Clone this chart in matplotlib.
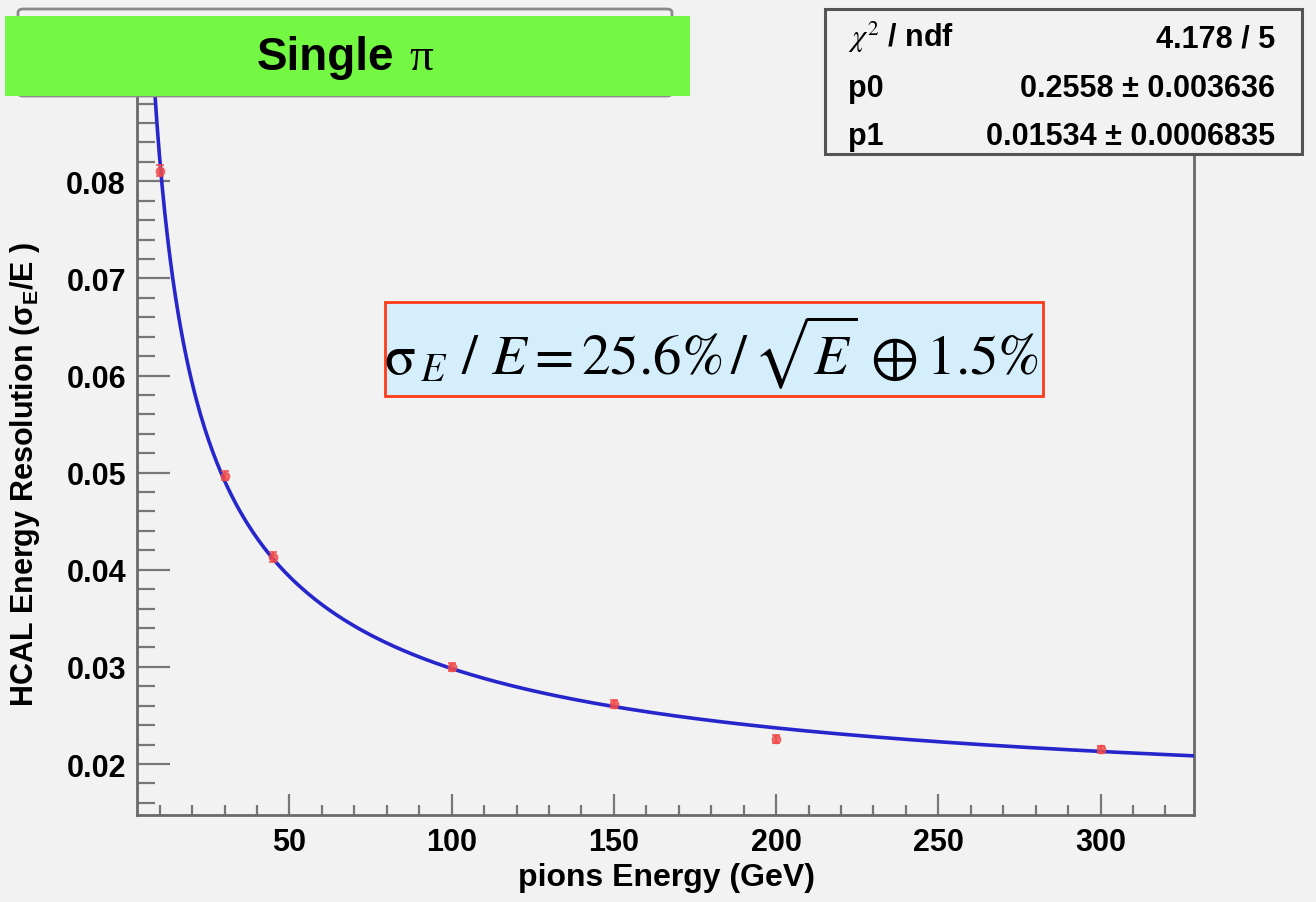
import numpy as np
import matplotlib
matplotlib.use("Agg")
import matplotlib.pyplot as plt
from matplotlib.patches import Rectangle, FancyBboxPatch

# ---- data ----
energy = [10, 30, 45, 100, 150, 200, 300]
resolution = [0.0811, 0.0497, 0.0413, 0.0300, 0.0262, 0.0226, 0.0215]
res_err = [0.0006, 0.0005, 0.0005, 0.0004, 0.0004, 0.0004, 0.0004]
p0 = 0.2558
p1 = 0.01534
fit_range = [3.0, 328.8]
x_major = [50, 100, 150, 200, 250, 300]
y_major = [0.02, 0.03, 0.04, 0.05, 0.06, 0.07, 0.08]
stat_labels = [r"$\chi^{2}$ / ndf", "p0", "p1"]
stat_values = ["4.178 / 5", "0.2558 \u00b1 0.003636", "0.01534 \u00b1 0.0006835"]

W, H = 1316, 903
BG = "#f2f2f2"
SANS = ["Liberation Sans", "DejaVu Sans"]
SERIF = ["Liberation Serif", "DejaVu Serif"]

fig = plt.figure(figsize=(W / 100, H / 100), dpi=100, facecolor=BG)

def fx(x):
    return x / W

def fy(y):
    return 1 - y / H

L, R, T, B = 137, 1194, 97, 816
ax = fig.add_axes([fx(L), fy(B), fx(R) - fx(L), fy(T) - fy(B)])
ax.set_facecolor(BG)

# fit curve
E = np.linspace(fit_range[0], fit_range[1], 800)
f = np.sqrt((p0 / np.sqrt(E)) ** 2 + p1 ** 2)
ax.plot(E, f, color="#2626cc", lw=2.6, zorder=3)

# data points
ax.errorbar(energy, resolution, yerr=res_err, fmt="o", ms=6, color="#f04a4a",
            ecolor="#f04a4a", elinewidth=1.6, capsize=3, capthick=1.4, zorder=4,
            alpha=0.8)

ax.set_xlim(3.0, 328.8)
ax.set_ylim(0.01475, 0.08878)
ax.set_xticks(x_major)
ax.set_xticks(np.arange(10, 330, 10), minor=True)
ax.set_yticks(y_major)
ax.set_yticks(np.arange(0.016, 0.0885, 0.002), minor=True)
ax.set_xticklabels([str(v) for v in x_major])
ax.set_yticklabels(["%.2f" % v for v in y_major])

for s in ["left", "bottom", "right"]:
    ax.spines[s].set_color("#6a6a6a")
    ax.spines[s].set_linewidth(2)
ax.spines["top"].set_visible(False)

ax.tick_params(axis="y", which="major", direction="in", length=24, width=1.6,
               color="#777777", pad=8, labelsize=22)
ax.tick_params(axis="y", which="minor", direction="in", length=13, width=1.6,
               color="#777777")
ax.tick_params(axis="x", which="major", direction="in", length=15, width=1.6,
               color="#777777", pad=9, labelsize=22)
ax.tick_params(axis="x", which="minor", direction="in", length=7.5, width=1.6,
               color="#777777")
for lab in ax.get_xticklabels() + ax.get_yticklabels():
    lab.set_fontfamily(SANS)
    lab.set_fontweight("bold")

# axis titles
fig.text(fx(667), fy(878), "pions Energy (GeV)", ha="center", va="center",
         fontsize=23, fontweight="bold", family=SANS)
fig.text(fx(25), fy(474), r"HCAL Energy Resolution ($\mathregular{\sigma_{E}}$/E )",
         ha="center", va="center", rotation=90, fontsize=22, fontweight="bold",
         family=SANS)

# title box (grey, behind) and green label
fig.add_artist(FancyBboxPatch((fx(18), fy(97)), fx(672) - fx(18), fy(10) - fy(97),
                              boxstyle="round,pad=0,rounding_size=0.004",
                              transform=fig.transFigure, facecolor=BG,
                              edgecolor="#8a8a8a", lw=2, zorder=5))
fig.add_artist(Rectangle((fx(5), fy(97)), fx(690) - fx(5), fy(17) - fy(97),
                         transform=fig.transFigure, facecolor="#74f843",
                         edgecolor="none", zorder=6))
fig.text(fx(257), fy(70), "Single", ha="left", va="baseline", fontsize=33,
         fontweight="bold", family=SANS, zorder=7)
fig.text(fx(409), fy(70), "\u03c0", ha="left", va="baseline", fontsize=34,
         family=SERIF, zorder=7)

# stats box
fig.add_artist(Rectangle((fx(825), fy(155)), fx(1302) - fx(825), fy(10) - fy(155),
                         transform=fig.transFigure, facecolor=BG,
                         edgecolor="#555555", lw=2.2, zorder=5))
rows_y = [47, 97, 145]
for lab, val, yb in zip(stat_labels, stat_values, rows_y):
    fig.text(fx(848), fy(yb), lab, ha="left", va="baseline", fontsize=22,
             fontweight="bold", family=SANS, math_fontfamily="stix", zorder=7)
    fig.text(fx(1275), fy(yb), val, ha="right", va="baseline", fontsize=22,
             fontweight="bold", family=SANS, zorder=7)

# formula box
fig.add_artist(Rectangle((fx(385), fy(397)), fx(1043) - fx(385), fy(303) - fy(397),
                         transform=fig.transFigure, facecolor="#d5eefc",
                         edgecolor="#ff3a1a", lw=2, zorder=5))
fig.text(fx(711), fy(352),
         r"$\mathrm{\sigma}_{\,E}\ /\ E = 25.6\%\,/\,\sqrt{E}\,\oplus 1.5\%$",
         ha="center", va="center", fontsize=41, math_fontfamily="stix", zorder=7)

fig.savefig("out.png", dpi=100, facecolor=BG)
